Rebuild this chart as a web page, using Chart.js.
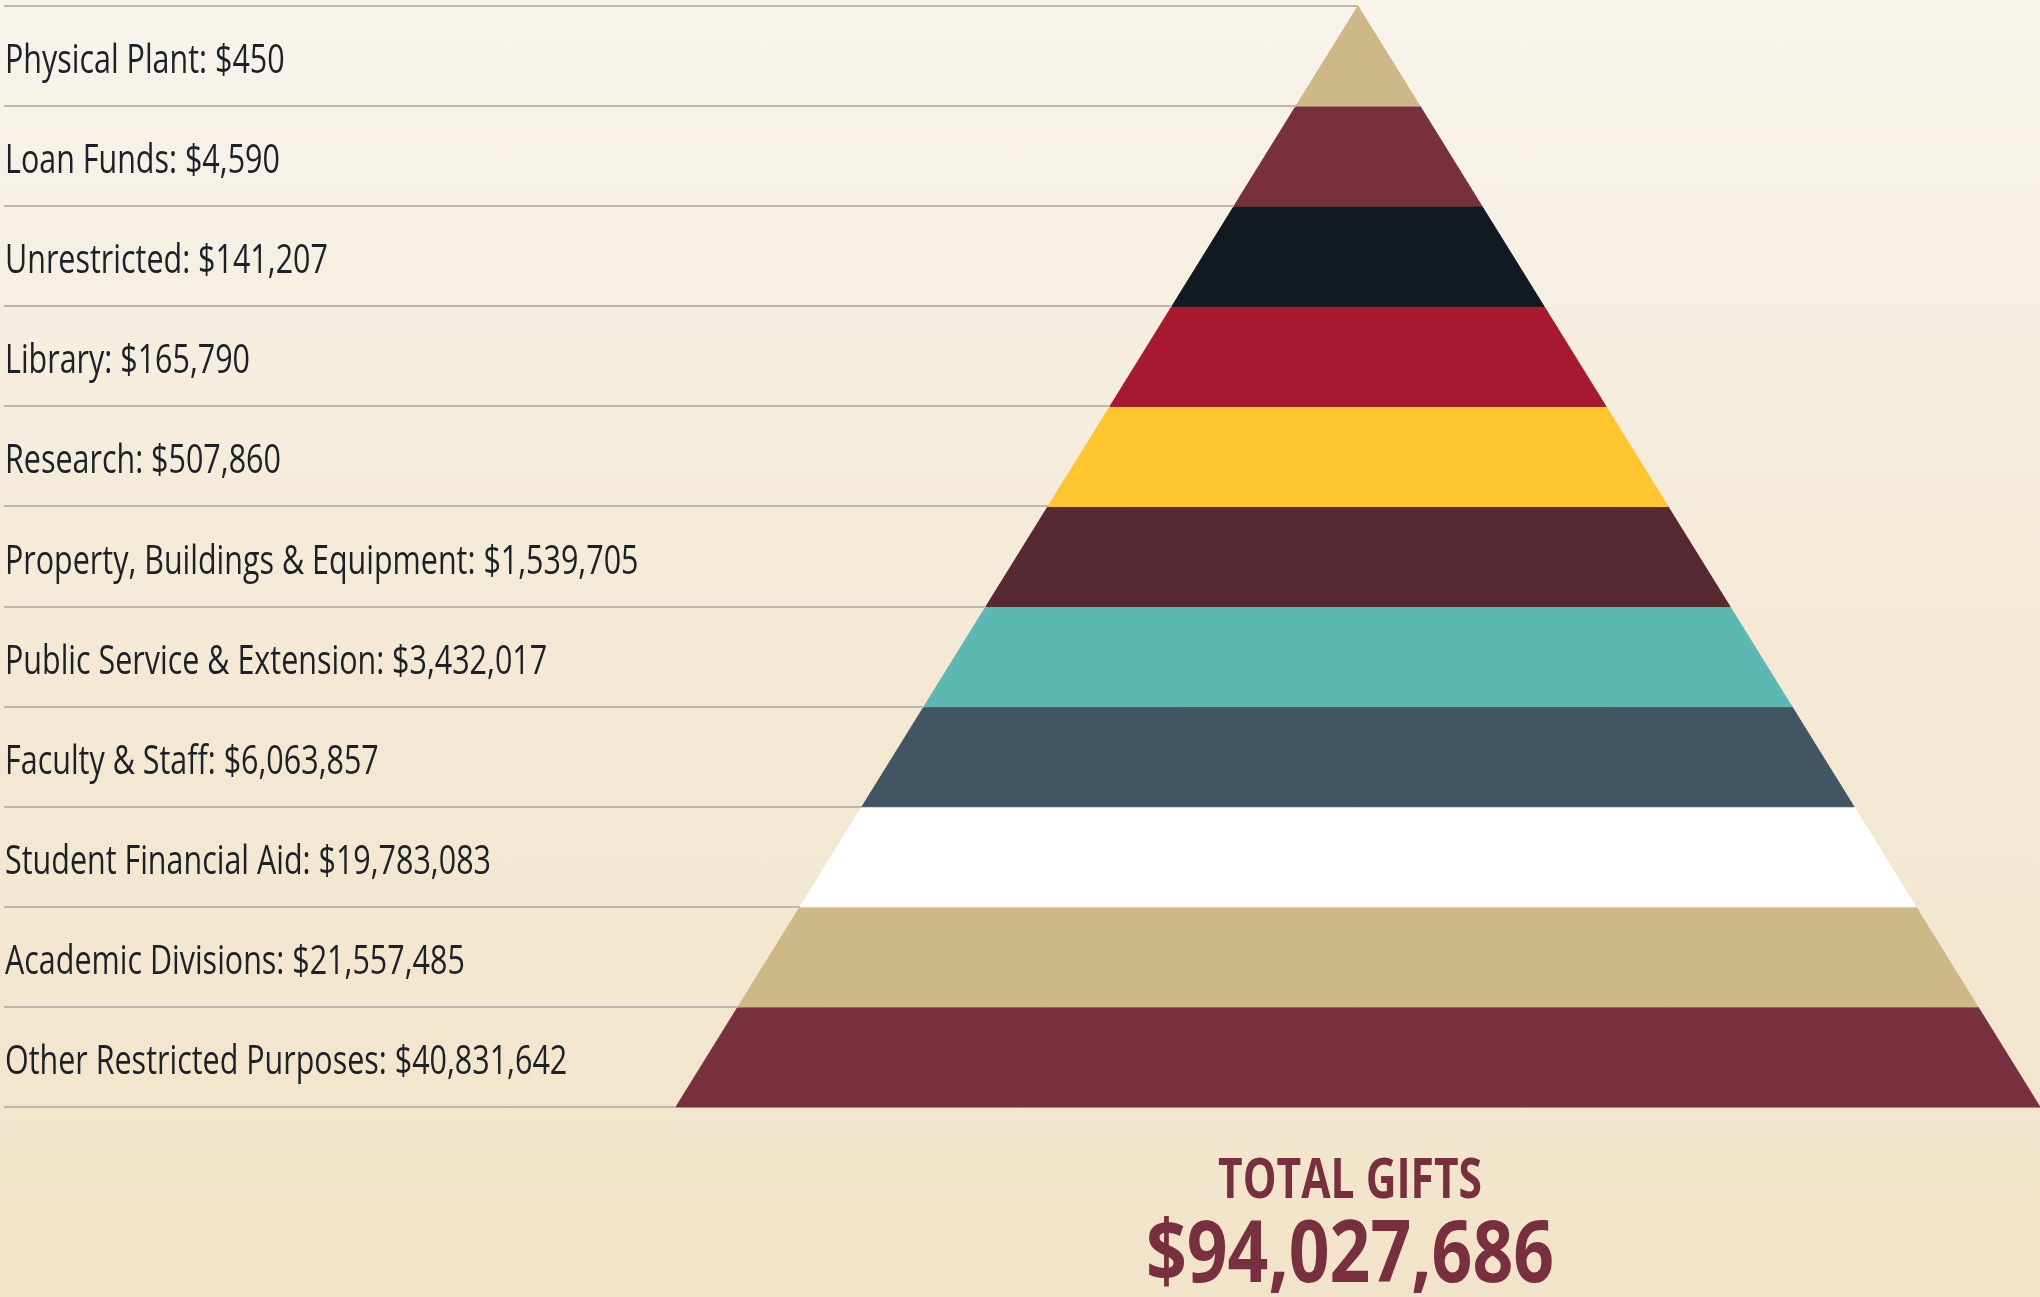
<!DOCTYPE html>
<html lang="en">
<head>
    <meta charset="UTF-8">
    <title>Total Gifts Pyramid</title>
    <script src="https://cdn.jsdelivr.net/npm/chart.js"></script>
    <style>
        html, body { margin: 0; padding: 0; }
        body { background: linear-gradient(180deg, #f8f4ec 0%, #f3e9d5 50%, #f1e4c8 100%); }
        #wrap { width: 2040px; height: 1297px; position: relative; }
    </style>
</head>
<body>
    <div id="wrap">
        <canvas id="pyramid"></canvas>
    </div>
    <script>
        // top of the pyramid first
        const categories = [
            'Physical Plant', 'Loan Funds', 'Unrestricted', 'Library', 'Research',
            'Property, Buildings & Equipment', 'Public Service & Extension', 'Faculty & Staff',
            'Student Financial Aid', 'Academic Divisions', 'Other Restricted Purposes'
        ];
        const amounts = [450, 4590, 141207, 165790, 507860, 1539705, 3432017, 6063857, 19783083, 21557485, 40831642];
        const bandColors = ['#cfb887', '#782f40', '#121a21', '#a6192e', '#ffc52f', '#572932',
                            '#5cb8b2', '#425563', '#ffffff', '#ceb888', '#782f40'];

        const levels = categories.length;
        const halfWidth = y => (levels - y) / levels;
        const fmt = n => '$' + n.toLocaleString('en-US');
        const total = amounts.reduce((a, b) => a + b, 0);

        // each band is a trapezoid between level (levels-k-1) and (levels-k)
        const datasets = categories.map((name, k) => {
            const yTop = levels - k, yBot = levels - k - 1;
            return {
                label: name,
                data: [
                    { x: -halfWidth(yTop), y: yTop },
                    { x: halfWidth(yTop), y: yTop },
                    { x: halfWidth(yBot), y: yBot },
                    { x: -halfWidth(yBot), y: yBot },
                    { x: -halfWidth(yTop), y: yTop }
                ],
                showLine: true,
                fill: 'shape',
                backgroundColor: bandColors[k],
                borderColor: bandColors[k],
                borderWidth: 1,
                pointRadius: 0,
                tension: 0
            };
        });

        const labelsPlugin = {
            id: 'labels',
            afterDatasetsDraw(chart) {
                const { ctx, scales: { x, y } } = chart;
                ctx.save();
                // separator lines
                ctx.strokeStyle = '#bcb8ae';
                ctx.lineWidth = 2;
                for (let lv = 0; lv <= levels; lv++) {
                    const py = Math.round(y.getPixelForValue(lv));
                    ctx.beginPath();
                    ctx.moveTo(4, py);
                    ctx.lineTo(x.getPixelForValue(-halfWidth(lv)), py);
                    ctx.stroke();
                }
                // category labels, condensed
                ctx.fillStyle = '#1b2128';
                ctx.font = '41px "Open Sans"';
                ctx.textBaseline = 'alphabetic';
                categories.forEach((name, k) => {
                    const py = y.getPixelForValue(levels - k - 0.5) + 17;
                    ctx.save();
                    ctx.translate(5, py);
                    ctx.scale(0.743, 1);
                    ctx.fillText(name + ': ' + fmt(amounts[k]), 0, 0);
                    ctx.restore();
                });
                // total
                ctx.fillStyle = '#782f40';
                ctx.textAlign = 'center';
                const cx = 1350;
                ctx.save();
                ctx.translate(cx, 1198);
                ctx.scale(0.76, 1);
                ctx.font = 'bold 56px "Open Sans"';
                ctx.fillText('TOTAL GIFTS', 0, 0);
                ctx.restore();
                ctx.save();
                ctx.translate(cx, 1282);
                ctx.scale(0.83, 1);
                ctx.font = 'bold 86px "Open Sans"';
                ctx.fillText(fmt(total), 0, 0);
                ctx.restore();
                ctx.restore();
            }
        };

        new Chart(document.getElementById('pyramid'), {
            type: 'scatter',
            data: { datasets },
            options: {
                responsive: true,
                maintainAspectRatio: false,
                animation: false,
                layout: { padding: 0 },
                scales: {
                    x: { type: 'linear', display: false, min: -1.991, max: 1.0 },
                    y: { type: 'linear', display: false, min: -1.898, max: 11.06 }
                },
                plugins: {
                    legend: { display: false },
                    tooltip: { enabled: false }
                }
            },
            plugins: [labelsPlugin]
        });
    </script>
</body>
</html>
